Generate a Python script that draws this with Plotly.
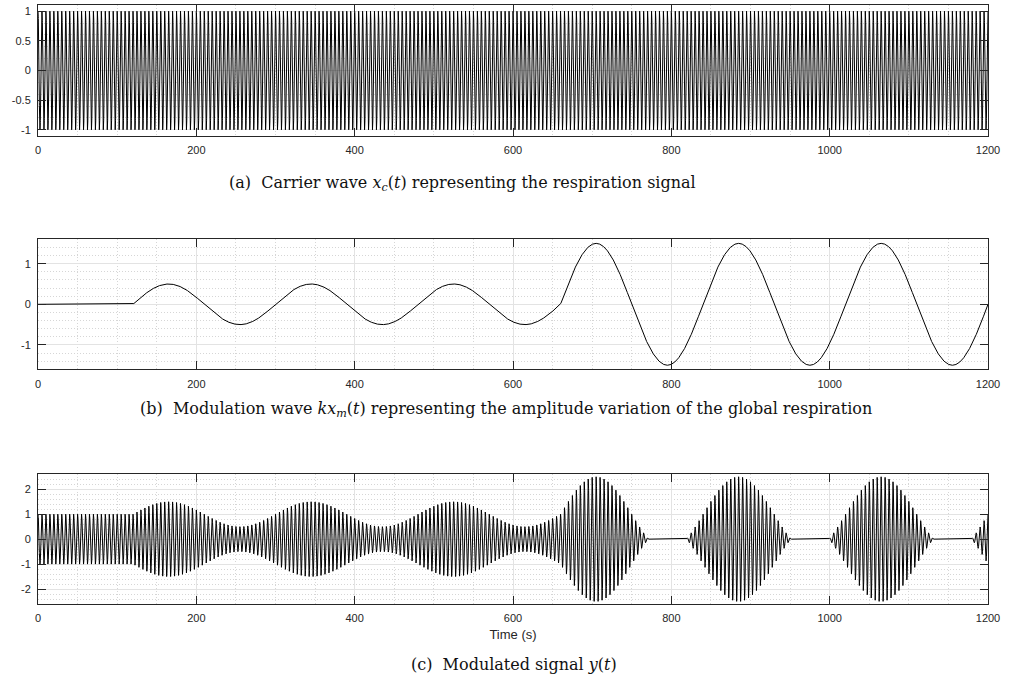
import numpy as np
import plotly.graph_objects as go

# ---- values ----
segment_bounds_s = [0, 120, 660, 1200]      # piecewise segments of the modulation wave
segment_amplitudes = [0.0, 0.5, 1.5]        # amplitude of k*x_m(t) in each segment
modulation_period_s = 180                   # period of the modulation wave
carrier_period_s = 5                        # period of the carrier (respiration) wave
sample_step_s = 0.05

x_ticks = [0, 200, 400, 600, 800, 1000, 1200]
ya_ticks = [-1, -0.5, 0, 0.5, 1]
ya_labels = ["-1", "-0.5", "0", "0.5", "1"]
yb_ticks = [-1, 0, 1]
yb_labels = ["-1", "0", "1"]
yc_ticks = [-2, -1, 0, 1, 2]
yc_labels = ["-2", "-1", "0", "1", "2"]

captions = [
    "(a)  Carrier wave <i>x</i><sub><i>c</i></sub>(<i>t</i>) representing the respiration signal",
    "(b)  Modulation wave <i>kx</i><sub><i>m</i></sub>(<i>t</i>) representing the amplitude variation of the global respiration",
    "(c)  Modulated signal <i>y</i>(<i>t</i>)",
]

# ---- signals ----
t = np.arange(segment_bounds_s[0], segment_bounds_s[-1] + sample_step_s / 2, sample_step_s)
carrier = np.cos(2 * np.pi * t / carrier_period_s)
modulation = np.zeros_like(t)
for i, amp in enumerate(segment_amplitudes):
    a, b = segment_bounds_s[i], segment_bounds_s[i + 1]
    m = (t >= a) & (t <= b)
    modulation[m] = amp * np.sin(2 * np.pi * (t[m] - a) / modulation_period_s)
modulated = np.maximum(0.0, 1.0 + modulation) * carrier

W, H = 1020, 688
fig = go.Figure()

def ydom(top_px, bot_px):
    return [(H - bot_px) / H, (H - top_px) / H]

xdom = [38 / W, 988 / W]
panels = [
    ("", carrier, ydom(5.3, 135.7), [-1.1, 1.1], ya_ticks, ya_labels),
    ("2", modulation, ydom(239.3, 369.3), [-1.6, 1.6], yb_ticks, yb_labels),
    ("3", modulated, ydom(474.3, 604), [-2.6, 2.6], yc_ticks, yc_labels),
]

axis_col = "#262626"
grid_col = "#e3e3e3"
minor_col = "#d6d6d6"
tickfont = dict(family="Liberation Sans, Arial, sans-serif", size=11, color=axis_col)

layout_upd = {}
for suf, y, dom, yr, yt, yl in panels:
    fig.add_trace(go.Scatter(x=t, y=y, mode="lines",
                             line=dict(color="black", width=1),
                             xaxis="x" + suf, yaxis="y" + suf, showlegend=False,
                             hoverinfo="skip"))
    layout_upd["xaxis" + suf] = dict(
        domain=xdom, anchor="y" + suf, range=[0, 1200], tickvals=x_ticks,
        ticks="inside", ticklen=8, tickcolor=axis_col, tickwidth=1,
        showline=True, linecolor=axis_col, linewidth=1, mirror="allticks",
        showgrid=True, gridcolor=grid_col, gridwidth=1, zeroline=False,
        minor=dict(dtick=50, showgrid=True, gridcolor=minor_col, griddash="1px,2px", ticks=""),
        tickfont=tickfont, automargin=False, ticklabelstandoff=4,
    )
    layout_upd["yaxis" + suf] = dict(
        domain=dom, anchor="x" + suf, range=yr, tickvals=yt, ticktext=yl,
        ticks="inside", ticklen=8, tickcolor=axis_col, tickwidth=1,
        showline=True, linecolor=axis_col, linewidth=1, mirror="allticks",
        showgrid=True, gridcolor=grid_col, gridwidth=1, zeroline=False,
        minor=dict(dtick=0.2, showgrid=True, gridcolor=minor_col, griddash="1px,2px", ticks=""),
        tickfont=tickfont, automargin=False, ticklabelstandoff=4,
    )

layout_upd["xaxis3"]["title"] = dict(text="Time (s)", standoff=6,
                                     font=dict(family="Liberation Sans, Arial, sans-serif", size=13, color=axis_col))

fig.update_layout(**layout_upd)

caption_x_px = [462, 506, 514]
caption_y_px = [183, 409, 664]
annos = []
for txt, xpx, ypx in zip(captions, caption_x_px, caption_y_px):
    annos.append(dict(text=txt, x=xpx / W, y=(H - ypx) / H, xref="paper", yref="paper",
                      xanchor="center", yanchor="middle", showarrow=False,
                      font=dict(family="DejaVu Serif, Liberation Serif, serif", size=16, color="#111111")))
fig.update_layout(
    annotations=annos,
    width=W, height=H, margin=dict(l=0, r=0, t=0, b=0, autoexpand=False),
    paper_bgcolor="white", plot_bgcolor="white",
)

fig.write_html("out.html")
